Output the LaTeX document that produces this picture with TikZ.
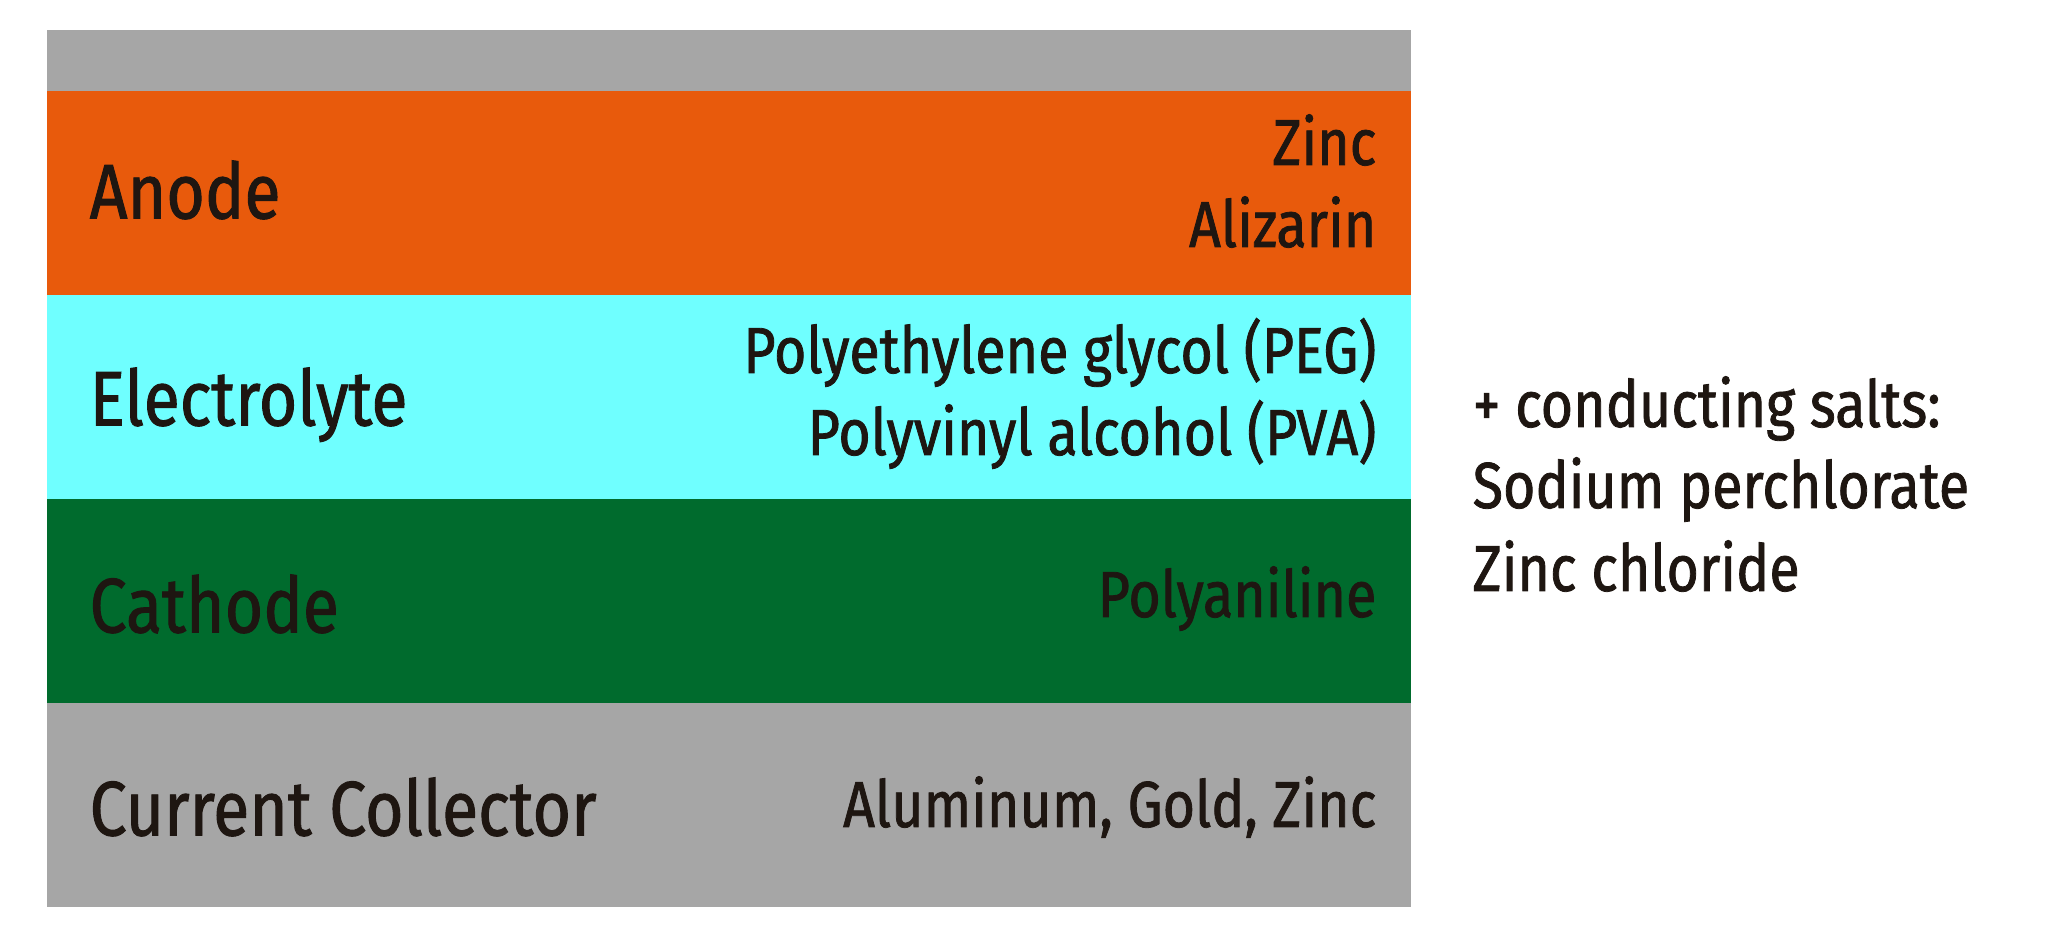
\documentclass[tikz,border=0pt]{standalone}
\usepackage{fontspec}
\setmainfont{Fira Sans}[FakeStretch=0.855,FakeBold=1.2]
\usetikzlibrary{positioning,calc}
\definecolor{collgray}{RGB}{166,166,166}
\definecolor{anodeorange}{RGB}{232,90,12}
\definecolor{electrocyan}{RGB}{111,255,255}
\definecolor{cathgreen}{RGB}{0,107,45}
\definecolor{inkbrown}{RGB}{30,22,17}
\tikzset{
  layer/.style={
    rectangle,
    inner sep=0pt,
    outer sep=0pt,
    minimum width=136.4mm,
    minimum height=20.4mm
  },
  topstrip/.style={layer,minimum height=6.15mm,fill=collgray},
  layertitle/.style={anchor=base west,inner sep=0pt,text=inkbrown,
                     font=\fontsize{22}{26}\selectfont},
  material/.style={anchor=base east,inner sep=0pt,text=inkbrown,
                   font=\fontsize{18.5}{23}\selectfont},
  saltnote/.style={anchor=base west,inner sep=0pt,text=inkbrown,
                   font=\fontsize{18.5}{23}\selectfont}
}
\begin{document}
\begin{tikzpicture}
  \useasboundingbox (0,0) rectangle (20.49,9.39);

  % Layer stack, top to bottom.
  \node[topstrip,anchor=north west] (strip) at (0.47,9.09) {};
  \node[layer,fill=anodeorange,below=0pt of strip] (anode) {};
  \node[layer,fill=electrocyan,below=0pt of anode] (electrolyte) {};
  \node[layer,fill=cathgreen,below=0pt of electrolyte] (cathode) {};
  \node[layer,fill=collgray,below=0pt of cathode] (collector) {};

  % Layer names.
  \node[layertitle] (anodename) at ($(anode.west)+(0.42,-0.25)$) {Anode};
  \node[layertitle] (electroname) at ($(electrolyte.west)+(0.42,-0.28)$) {Electrolyte};
  \node[layertitle] (cathname) at ($(cathode.west)+(0.42,-0.31)$) {Cathode};
  \node[layertitle] (collname) at ($(collector.west)+(0.42,-0.30)$) {Current Collector};

  % Materials of each layer.
  \node[material] (zinc) at (13.77,7.74) {Zinc};
  \node[material] (alizarin) at (13.77,6.92) {Alizarin};
  \node[material] (peg) at (13.77,5.66) {Polyethylene glycol (PEG)};
  \node[material] (pva) at (13.77,4.84) {Polyvinyl alcohol (PVA)};
  \node[material] (pani) at (13.77,3.22) {Polyaniline};
  \node[material] (metals) at (13.77,1.12) {Aluminum, Gold, Zinc};

  % Salts added to the electrolyte.
  \node[saltnote] (salts) at (14.72,5.12) {+ conducting salts:};
  \node[saltnote] (perchlorate) at (14.72,4.31) {Sodium perchlorate};
  \node[saltnote] (zncl) at (14.72,3.48) {Zinc chloride};
\end{tikzpicture}
\end{document}
